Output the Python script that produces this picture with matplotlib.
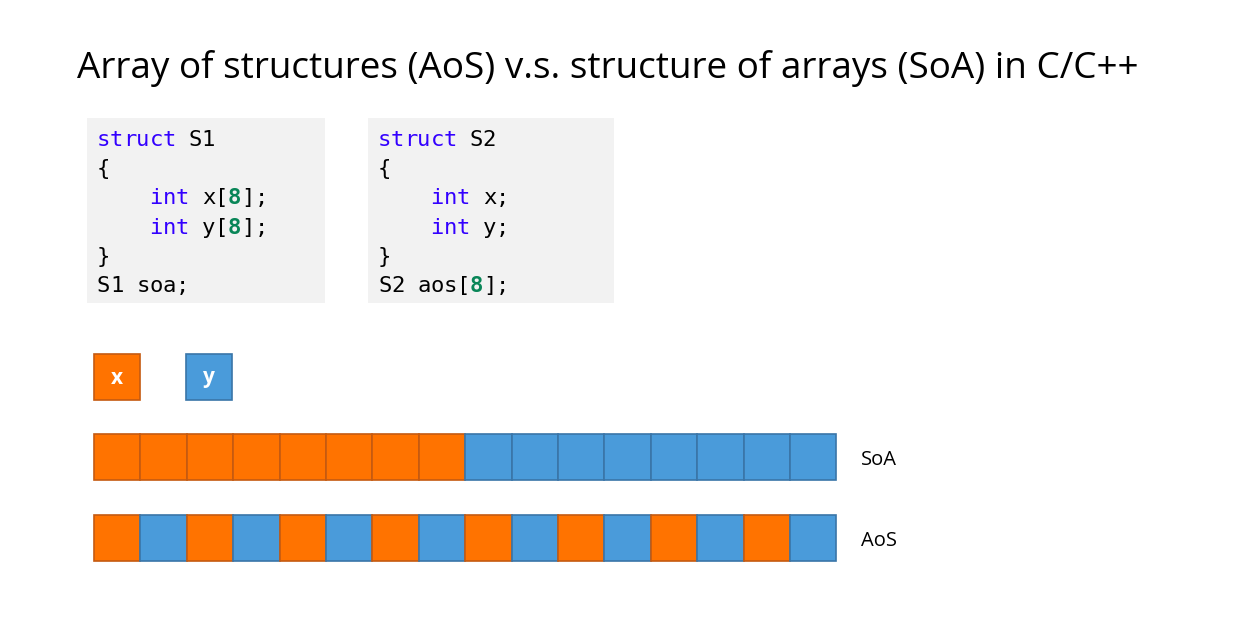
import matplotlib
matplotlib.use('Agg')
import matplotlib.pyplot as plt
from matplotlib.patches import Rectangle

title = 'Array of structures (AoS) v.s. structure of arrays (SoA) in C/C++'

# code listings: one list of (text, kind) tokens per line
code_s1 = [
    [('struct', 'kw'), (' S1', 'txt')],
    [('{', 'txt')],
    [('    ', 'txt'), ('int', 'kw'), (' x[', 'txt'), ('8', 'num'), ('];', 'txt')],
    [('    ', 'txt'), ('int', 'kw'), (' y[', 'txt'), ('8', 'num'), ('];', 'txt')],
    [('}', 'txt')],
    [('S1 soa;', 'txt')],
]
code_s2 = [
    [('struct', 'kw'), (' S2', 'txt')],
    [('{', 'txt')],
    [('    ', 'txt'), ('int', 'kw'), (' x;', 'txt')],
    [('    ', 'txt'), ('int', 'kw'), (' y;', 'txt')],
    [('}', 'txt')],
    [('S2 aos[', 'txt'), ('8', 'num'), ('];', 'txt')],
]

legend_fields = ['x', 'y']
soa_cells = ['x', 'x', 'x', 'x', 'x', 'x', 'x', 'x',
             'y', 'y', 'y', 'y', 'y', 'y', 'y', 'y']
aos_cells = ['x', 'y', 'x', 'y', 'x', 'y', 'x', 'y',
             'x', 'y', 'x', 'y', 'x', 'y', 'x', 'y']
row_labels = ['SoA', 'AoS']

fill = {'x': '#FF7300', 'y': '#4A9BDA'}
edge = {'x': '#C55A11', 'y': '#3A75A8'}
code_col = {'kw': '#3300FF', 'num': '#098658', 'txt': '#000000'}

W, H = 1238, 627
fig = plt.figure(figsize=(W / 100, H / 100), dpi=100)
ax = fig.add_axes([0, 0, 1, 1])
ax.set_xlim(0, W)
ax.set_ylim(H, 0)
ax.axis('off')

# title, scaled to span the same width as the original
t = ax.text(77, 78, title, fontsize=26, family='Open Sans', va='baseline', ha='left')
fig.canvas.draw()
bb = t.get_window_extent()
t.set_fontsize(26 * (1066 / bb.width))

# code boxes
char_w = 13.1
line_h = 29.2
for x0, x1, lines in [(87, 325, code_s1), (368, 614, code_s2)]:
    ax.add_patch(Rectangle((x0, 118), x1 - x0, 185, facecolor='#F2F2F2', edgecolor='none'))
    for i, line in enumerate(lines):
        col = 0
        for txt, kind in line:
            for ch in txt:
                if ch != ' ':
                    ax.text(x0 + 10 + col * char_w, 146 + i * line_h, ch,
                            fontsize=16, family='DejaVu Sans Mono',
                            fontweight='bold' if kind == 'num' else 'normal',
                            color=code_col[kind], va='baseline', ha='left')
                col += 1

# legend squares
cell = 46.4
for name, lx in zip(legend_fields, [94, 186]):
    ax.add_patch(Rectangle((lx, 354), cell, cell, facecolor=fill[name],
                           edgecolor=edge[name], lw=1.2))
    ax.text(lx + cell / 2, 378, name, color='white', fontsize=15, family='Open Sans',
            fontweight='bold', ha='center', va='center')

# memory layouts
for cells, y0, lab in [(soa_cells, 434, row_labels[0]), (aos_cells, 515, row_labels[1])]:
    for i, name in enumerate(cells):
        ax.add_patch(Rectangle((94 + i * cell, y0), cell, cell, facecolor=fill[name],
                               edgecolor=edge[name], lw=1.2))
    ax.text(861, y0 + 31, lab, fontsize=14.5, family='Open Sans', va='baseline', ha='left')

fig.savefig('out.png', dpi=100)
